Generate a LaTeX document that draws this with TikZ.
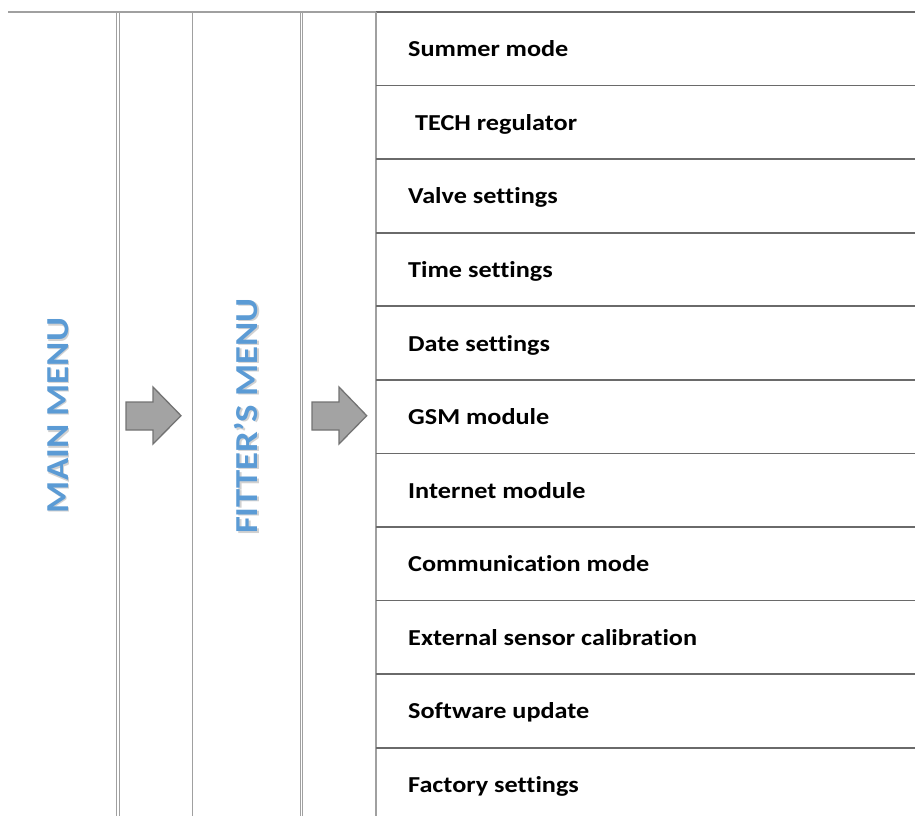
\documentclass[tikz,border=0pt]{standalone}
\usepackage{fontspec}
\newfontfamily\carl[FakeStretch=1.15,Ligatures=NoCommon]{Carlito}
\definecolor{lightrule}{HTML}{A0A0A0}
\definecolor{darkrule}{HTML}{6A6A6A}
\definecolor{menublue}{HTML}{5B9BD5}
\definecolor{arrowfill}{HTML}{A3A3A3}
\definecolor{arrowedge}{HTML}{737373}
\begin{document}
\begin{tikzpicture}[x=1pt,y=-1pt,
  light/.style={draw=lightrule,line width=1.2pt},
  dark/.style={draw=darkrule,line width=1.6pt},
  item/.style={anchor=base west,inner sep=0pt,font=\carl\bfseries\fontsize{22.8}{27}\selectfont},
  menu/.style={rotate=90,inner sep=0pt,text=menublue,font=\carl\bfseries\fontsize{32}{38}\selectfont},
  menushadow/.style={menu,text=black,opacity=0.18},
  bigarrow/.style={fill=arrowfill,draw=arrowedge,line width=1.3pt,line join=miter}]
\useasboundingbox (0,0) rectangle (915,816);
% frame lines
\draw[light] (8,12) -- (376,12);
\draw[dark] (376,12) -- (915,12);
\foreach \x in {116,119,192,300,302.5}
  \draw[light,line width=1pt] (\x,12) -- (\x,816);
\draw[light,line width=1.5pt] (376,12) -- (376,816);
\foreach \k in {1,...,10}
  \draw[dark] (376,{12+73.57*\k}) -- (915,{12+73.57*\k});
% vertical menu titles
\node[menushadow] at (59.5,417) {MAIN MENU};
\node[menu] (main) at (58,415.5) {MAIN MENU};
\node[menushadow] at (247.5,417.5) {FITTER’S MENU};
\node[menu] (fitter) at (246,416) {FITTER’S MENU};
% block arrows
\draw[bigarrow] (126,402) -- (153,402) -- (153,387) -- (181,415.7) -- (153,444) -- (153,430) -- (126,430) -- cycle;
\draw[bigarrow] (312,402) -- (339,402) -- (339,387) -- (366.7,415.7) -- (339,444) -- (339,430) -- (312,430) -- cycle;
% items
\node[item] (r1) at (408,{12+73.57*0.5+8}) {Summer mode};
\node[item] (r2) at (415,{12+73.57*1.5+8}) {TECH regulator};
\node[item] (r3) at (408,{12+73.57*2.5+8}) {Valve settings};
\node[item] (r4) at (408,{12+73.57*3.5+8}) {Time settings};
\node[item] (r5) at (408,{12+73.57*4.5+8}) {Date settings};
\node[item] (r6) at (408,{12+73.57*5.5+8}) {GSM module};
\node[item] (r7) at (408,{12+73.57*6.5+8}) {Internet module};
\node[item] (r8) at (408,{12+73.57*7.5+8}) {Communication mode};
\node[item] (r9) at (408,{12+73.57*8.5+8}) {External sensor calibration};
\node[item] (r10) at (408,{12+73.57*9.5+8}) {Software update};
\node[item] (r11) at (408,{12+73.57*10.5+8}) {Factory settings};
\end{tikzpicture}
\end{document}
